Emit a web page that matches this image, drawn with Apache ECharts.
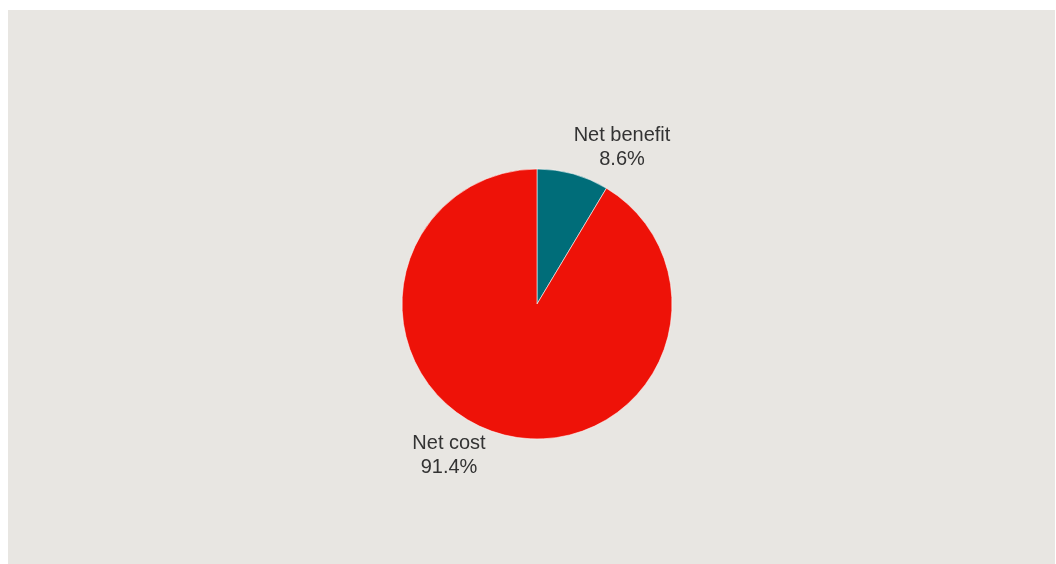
<!DOCTYPE html>
<html>
<head>
<meta charset="utf-8">
<script src="https://cdn.jsdelivr.net/npm/echarts@6/dist/echarts.min.js"></script>
<style>
  html, body { margin: 0; padding: 0; background: #ffffff; }
  #chart { position: absolute; left: 8px; top: 10px; width: 1047px; height: 554px; background: #e8e6e2; }
</style>
</head>
<body>
<div id="chart"></div>
<script>
// Share of outcomes (percent)
const categories = ['Net benefit', 'Net cost'];
const shares = [8.6, 91.4];
const sliceColors = ['#006d79', '#ee1208'];

// Where each slice's label block sits (centre of the two-line block)
const labelSpots = [[614, 137], [441, 445]];

const chart = echarts.init(document.getElementById('chart'), null, { renderer: 'canvas' });

chart.setOption({
  animation: false,
  backgroundColor: '#e8e6e2',
  series: [{
    type: 'pie',
    center: [529, 294],
    radius: [0, 135],
    startAngle: 90,
    clockwise: true,
    data: categories.map((name, i) => ({
      name,
      value: shares[i],
      itemStyle: { color: sliceColors[i] }
    })),
    itemStyle: { borderColor: 'rgba(255,255,255,0.7)', borderWidth: 0.8 },
    label: {
      show: true,
      position: 'outside',
      formatter: p => p.name + '\n' + p.value.toFixed(1) + '%',
      color: '#333333',
      fontFamily: 'Liberation Sans, Arial, sans-serif',
      fontSize: 20,
      lineHeight: 24,
      align: 'center'
    },
    labelLine: { show: false },
    labelLayout: params => ({
      x: labelSpots[params.dataIndex][0],
      y: labelSpots[params.dataIndex][1],
      align: 'center',
      verticalAlign: 'middle'
    }),
    emphasis: { disabled: true }
  }]
});
</script>
</body>
</html>
